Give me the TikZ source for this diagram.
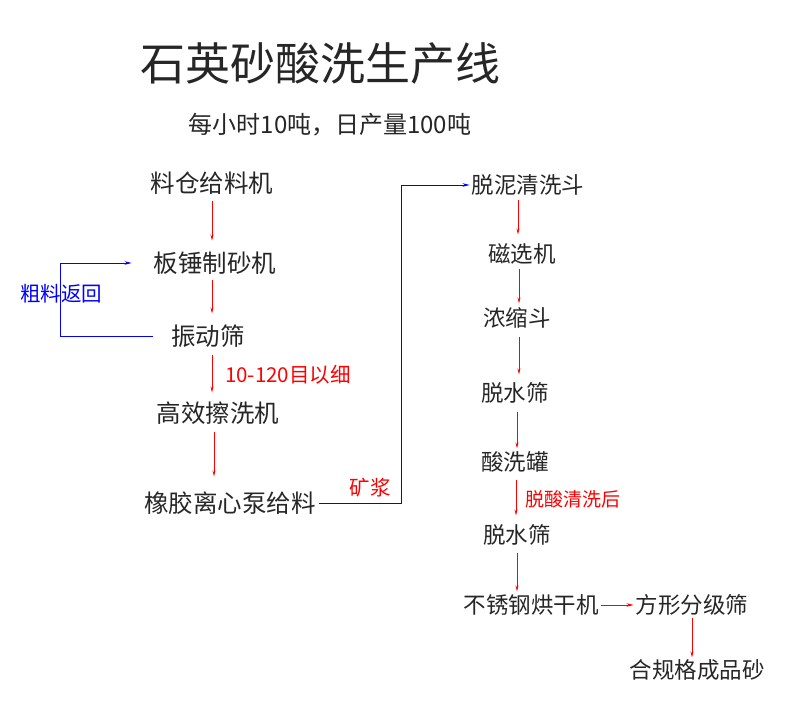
\documentclass[tikz,border=0pt]{standalone}
\usepackage{fontspec}
\newfontfamily\cjk{Noto Sans CJK SC}
\usetikzlibrary{arrows.meta}
\begin{document}
\begin{tikzpicture}[x=1pt,y=-1pt,
  box/.style={inner sep=3pt,font=\cjk\fontsize{24.5}{24.5}\selectfont,text=black!85},
  boxr/.style={inner sep=2pt,font=\cjk\fontsize{22.5}{22.5}\selectfont,text=black!85},
  lbl/.style={inner sep=1pt,font=\cjk\fontsize{20.5}{20.5}\selectfont},
  rarr/.style={draw=red,line width=0.7pt,-{Stealth[length=6pt,width=3pt]}},
  barr/.style={draw=blue,line width=0.8pt,-{Stealth[length=7pt,width=3.5pt]}},
  rline/.style={draw=red,line width=0.8pt,-{Stealth[length=7pt,width=3.5pt]}}]
\useasboundingbox (0,0) rectangle (793,702);
\node[font=\cjk\fontsize{45}{45}\selectfont,text=black!85] (title) at (320,64) {石英砂酸洗生产线};
\node[font=\cjk\fontsize{24}{24}\selectfont,text=black!85] (sub) at (330,125) {每小时10吨，日产量100吨};
% left column
\node[box] (a1) at (212,183) {料仓给料机};
\node[box] (a2) at (215,263) {板锤制砂机};
\node[box] (a3) at (208,336) {振动筛};
\node[box] (a4) at (218,413) {高效擦洗机};
\node[box] (a5) at (230,503) {橡胶离心泵给料};
% right column
\node[boxr] (b1) at (528,185) {脱泥清洗斗};
\node[boxr] (b2) at (522,254) {磁选机};
\node[boxr] (b3) at (517,318) {浓缩斗};
\node[boxr] (b4) at (515,393) {脱水筛};
\node[boxr] (b5) at (515,462) {酸洗罐};
\node[boxr] (b6) at (517,535) {脱水筛};
\node[boxr] (b7) at (531,605) {不锈钢烘干机};
\node[boxr] (c1) at (692,605) {方形分级筛};
\node[boxr] (c2) at (697,670) {合规格成品砂};
% labels
\node[lbl,text=red,anchor=west] (l1) at (224,375) {10-120目以细};
\node[lbl,text=red] (l2) at (370,488) {矿浆};
\node[lbl,text=red,anchor=west,font=\cjk\fontsize{19}{19}\selectfont] (l3) at (524,499) {脱酸清洗后};
\node[lbl,text=blue] (l4) at (61,294) {粗料返回};
% left arrows
\draw[rarr,shorten <=3pt,shorten >=8pt] (a1.south -| 212,0) -- (a2.north -| 212,0);
\draw[rarr,shorten <=2pt,shorten >=8pt] (a2.south -| 212,0) -- (a3.north -| 212,0);
\draw[rarr,shorten <=4pt,shorten >=6pt] (a3.south -| 212,0) -- (a4.north -| 212,0);
\draw[rarr,shorten <=4pt,shorten >=12pt] (a4.south -| 214,0) -- (a5.north -| 214,0);
% right arrows
\draw[rarr,shorten <=2pt,shorten >=7pt] (b1.south -| 518,0) -- (b2.north -| 518,0);
\draw[rarr,shorten <=2pt,shorten >=2pt] (b2.south -| 519,0) -- (b3.north -| 519,0);
\draw[rarr,shorten <=6pt,shorten >=6pt] (b3.south -| 519,0) -- (b4.north -| 519,0);
\draw[rarr,shorten <=6pt,shorten >=1pt] (b4.south -| 517,0) -- (b5.north -| 517,0);
\draw[rarr,shorten <=5pt,shorten >=7pt] (b5.south -| 516,0) -- (b6.north -| 516,0);
\draw[rarr,shorten <=5pt,shorten >=1pt] (b6.south -| 517,0) -- (b7.north -| 517,0);
\draw[rline] (b7.east) -- (c1.west);
\draw[rarr] (c1.south -| 692,0) -- (c2.north -| 692,0);
% blue connectors
\coordinate (t1) at (401,503);
\draw[barr] (a5.east) -- (t1) |- (b1.west);
\coordinate (f1) at (60,336);
\draw[barr,shorten <=15pt,shorten >=19pt] (a3.west) -- (f1) |- (a2.west);
\end{tikzpicture}
\end{document}
